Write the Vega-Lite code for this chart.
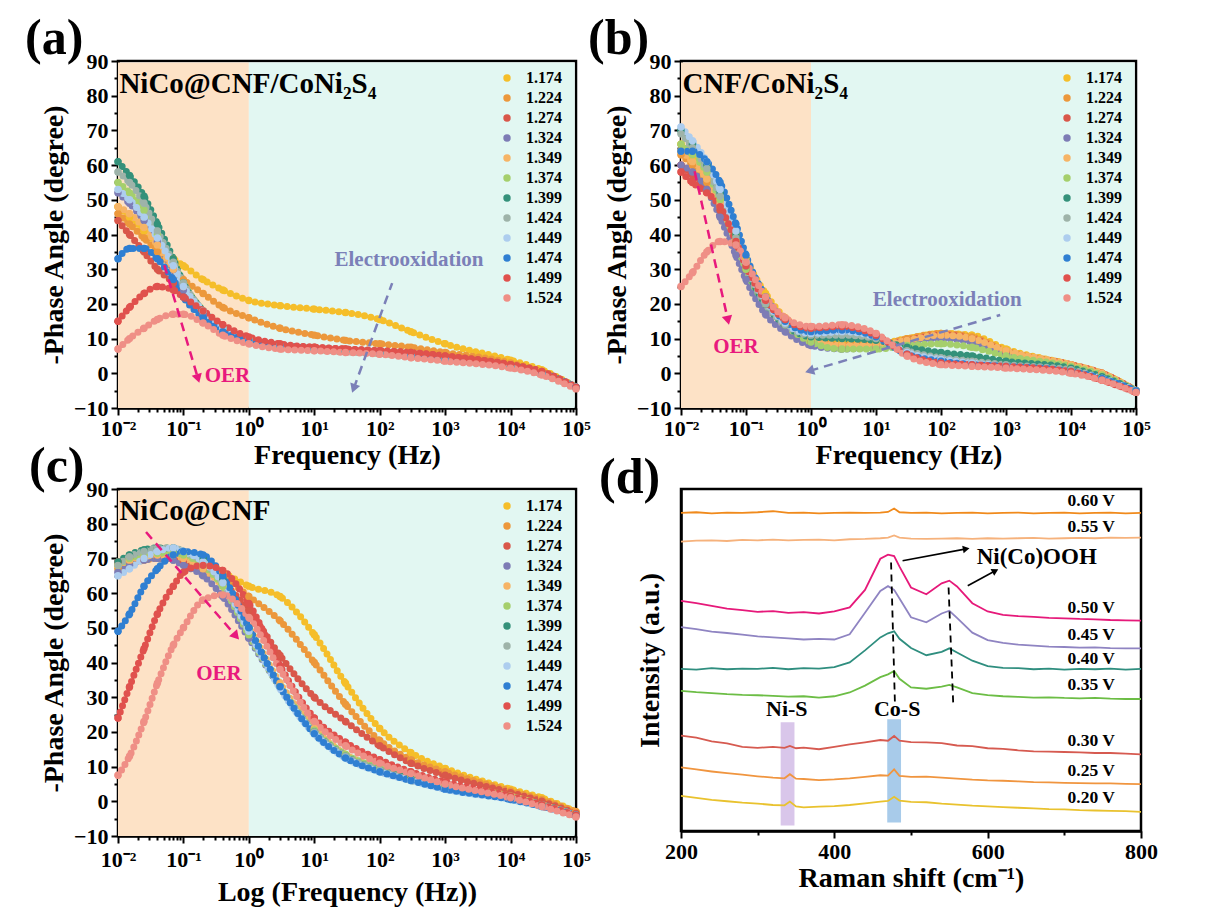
{
"$schema": "https://vega.github.io/schema/vega-lite/v6.json",
"background": "white",
"padding": {"left": 23, "top": 12, "right": 5, "bottom": 5},
"bounds": "flush",
"columns": 2,
"spacing": {"row": 81, "column": 105},
"config": {
  "font": "Liberation Serif",
  "view": {"stroke": "black", "strokeWidth": 2.5},
  "axis": {"labelFont": "Liberation Serif", "labelFontSize": 22, "labelFontWeight": "bold", "labelColor": "black", "titleFont": "Liberation Serif", "titleFontSize": 28, "titleFontWeight": "bold", "titleColor": "black", "domainColor": "black", "domainWidth": 2.5, "tickColor": "black", "tickWidth": 2, "grid": false, "zindex": 1, "labelPadding": 3},
  "legend": {"labelFont": "Liberation Serif", "labelFontSize": 16, "labelFontWeight": "bold", "labelColor": "black", "symbolSize": 55, "symbolType": "circle", "rowPadding": 4, "padding": 0, "labelOffset": 11},
  "text": {"font": "Liberation Serif", "fontWeight": "bold", "baseline": "middle"},
  "title": {"font": "Liberation Serif", "fontWeight": "bold", "fontSize": 50, "color": "black", "anchor": "start", "frame": "group", "baseline": "alphabetic", "offset": -14}
},
"resolve": {"scale": {"color": "independent", "stroke": "independent"}, "legend": {"color": "independent"}},
"datasets": {
"a": [
{"s":"1.174","f":0.01,"p":48},{"s":"1.174","f":0.015,"p":45},{"s":"1.174","f":0.025,"p":41},{"s":"1.174","f":0.04,"p":37},{"s":"1.174","f":0.07,"p":33},{"s":"1.174","f":0.1,"p":31},{"s":"1.174","f":0.2,"p":27},{"s":"1.174","f":0.4,"p":24},{"s":"1.174","f":1,"p":21},{"s":"1.174","f":3,"p":19.5},{"s":"1.174","f":10,"p":18.5},{"s":"1.174","f":30,"p":17.5},{"s":"1.174","f":100,"p":15.5},{"s":"1.174","f":300,"p":12},{"s":"1.174","f":1000,"p":8.5},{"s":"1.174","f":10000,"p":3.8},{"s":"1.174","f":30000,"p":1},{"s":"1.174","f":100000,"p":-4},
{"s":"1.224","f":0.01,"p":46},{"s":"1.224","f":0.015,"p":43},{"s":"1.224","f":0.025,"p":39},{"s":"1.224","f":0.04,"p":35},{"s":"1.224","f":0.07,"p":30},{"s":"1.224","f":0.1,"p":27},{"s":"1.224","f":0.2,"p":23},{"s":"1.224","f":0.4,"p":19},{"s":"1.224","f":1,"p":16},{"s":"1.224","f":3,"p":13},{"s":"1.224","f":10,"p":11},{"s":"1.224","f":30,"p":9.5},{"s":"1.224","f":100,"p":8.5},{"s":"1.224","f":300,"p":7.5},{"s":"1.224","f":1000,"p":6},{"s":"1.224","f":10000,"p":3},{"s":"1.224","f":30000,"p":0.5},{"s":"1.224","f":100000,"p":-4},
{"s":"1.274","f":0.01,"p":44},{"s":"1.274","f":0.015,"p":40},{"s":"1.274","f":0.025,"p":35},{"s":"1.274","f":0.04,"p":30},{"s":"1.274","f":0.07,"p":26},{"s":"1.274","f":0.1,"p":22},{"s":"1.274","f":0.2,"p":17},{"s":"1.274","f":0.4,"p":13},{"s":"1.274","f":1,"p":10},{"s":"1.274","f":3,"p":8},{"s":"1.274","f":10,"p":7.5},{"s":"1.274","f":30,"p":7},{"s":"1.274","f":100,"p":6.5},{"s":"1.274","f":300,"p":6},{"s":"1.274","f":1000,"p":5},{"s":"1.274","f":10000,"p":2.5},{"s":"1.274","f":30000,"p":0.5},{"s":"1.274","f":100000,"p":-4},
{"s":"1.324","f":0.01,"p":52},{"s":"1.324","f":0.015,"p":49},{"s":"1.324","f":0.025,"p":44},{"s":"1.324","f":0.04,"p":38},{"s":"1.324","f":0.07,"p":30},{"s":"1.324","f":0.1,"p":24},{"s":"1.324","f":0.2,"p":17},{"s":"1.324","f":0.4,"p":13},{"s":"1.324","f":1,"p":9.5},{"s":"1.324","f":3,"p":8},{"s":"1.324","f":10,"p":7},{"s":"1.324","f":30,"p":6.3},{"s":"1.324","f":100,"p":5.8},{"s":"1.324","f":300,"p":5},{"s":"1.324","f":1000,"p":4},{"s":"1.324","f":10000,"p":2},{"s":"1.324","f":30000,"p":0},{"s":"1.324","f":100000,"p":-4},
{"s":"1.349","f":0.01,"p":48},{"s":"1.349","f":0.015,"p":46},{"s":"1.349","f":0.025,"p":42},{"s":"1.349","f":0.04,"p":37},{"s":"1.349","f":0.07,"p":30},{"s":"1.349","f":0.1,"p":25},{"s":"1.349","f":0.2,"p":18},{"s":"1.349","f":0.4,"p":13},{"s":"1.349","f":1,"p":10},{"s":"1.349","f":3,"p":8},{"s":"1.349","f":10,"p":7},{"s":"1.349","f":30,"p":6.3},{"s":"1.349","f":100,"p":5.8},{"s":"1.349","f":300,"p":5},{"s":"1.349","f":1000,"p":4},{"s":"1.349","f":10000,"p":2},{"s":"1.349","f":30000,"p":0},{"s":"1.349","f":100000,"p":-4},
{"s":"1.374","f":0.01,"p":55},{"s":"1.374","f":0.015,"p":52},{"s":"1.374","f":0.025,"p":47},{"s":"1.374","f":0.04,"p":40},{"s":"1.374","f":0.07,"p":32},{"s":"1.374","f":0.1,"p":26},{"s":"1.374","f":0.2,"p":18},{"s":"1.374","f":0.4,"p":13},{"s":"1.374","f":1,"p":9.5},{"s":"1.374","f":3,"p":8},{"s":"1.374","f":10,"p":7},{"s":"1.374","f":30,"p":6.3},{"s":"1.374","f":100,"p":5.8},{"s":"1.374","f":300,"p":5},{"s":"1.374","f":1000,"p":4},{"s":"1.374","f":10000,"p":2},{"s":"1.374","f":30000,"p":0},{"s":"1.374","f":100000,"p":-4},
{"s":"1.399","f":0.01,"p":61},{"s":"1.399","f":0.015,"p":57},{"s":"1.399","f":0.025,"p":51},{"s":"1.399","f":0.04,"p":43},{"s":"1.399","f":0.07,"p":33},{"s":"1.399","f":0.1,"p":26},{"s":"1.399","f":0.2,"p":18},{"s":"1.399","f":0.4,"p":13},{"s":"1.399","f":1,"p":9.5},{"s":"1.399","f":3,"p":8},{"s":"1.399","f":10,"p":7},{"s":"1.399","f":30,"p":6.3},{"s":"1.399","f":100,"p":5.8},{"s":"1.399","f":300,"p":5},{"s":"1.399","f":1000,"p":4},{"s":"1.399","f":10000,"p":2},{"s":"1.399","f":30000,"p":0},{"s":"1.399","f":100000,"p":-4},
{"s":"1.424","f":0.01,"p":58},{"s":"1.424","f":0.015,"p":55},{"s":"1.424","f":0.025,"p":49},{"s":"1.424","f":0.04,"p":41},{"s":"1.424","f":0.07,"p":32},{"s":"1.424","f":0.1,"p":26},{"s":"1.424","f":0.2,"p":18},{"s":"1.424","f":0.4,"p":13},{"s":"1.424","f":1,"p":9.5},{"s":"1.424","f":3,"p":8},{"s":"1.424","f":10,"p":7},{"s":"1.424","f":30,"p":6.3},{"s":"1.424","f":100,"p":5.8},{"s":"1.424","f":300,"p":5},{"s":"1.424","f":1000,"p":4},{"s":"1.424","f":10000,"p":2},{"s":"1.424","f":30000,"p":0},{"s":"1.424","f":100000,"p":-4},
{"s":"1.449","f":0.01,"p":53},{"s":"1.449","f":0.015,"p":50},{"s":"1.449","f":0.025,"p":45},{"s":"1.449","f":0.04,"p":39},{"s":"1.449","f":0.07,"p":31},{"s":"1.449","f":0.1,"p":25},{"s":"1.449","f":0.2,"p":18},{"s":"1.449","f":0.4,"p":13},{"s":"1.449","f":1,"p":9.5},{"s":"1.449","f":3,"p":8},{"s":"1.449","f":10,"p":7},{"s":"1.449","f":30,"p":6.3},{"s":"1.449","f":100,"p":5.8},{"s":"1.449","f":300,"p":5},{"s":"1.449","f":1000,"p":4},{"s":"1.449","f":10000,"p":2},{"s":"1.449","f":30000,"p":0},{"s":"1.449","f":100000,"p":-4},
{"s":"1.474","f":0.01,"p":33},{"s":"1.474","f":0.015,"p":36},{"s":"1.474","f":0.025,"p":36},{"s":"1.474","f":0.04,"p":33},{"s":"1.474","f":0.07,"p":27},{"s":"1.474","f":0.1,"p":22},{"s":"1.474","f":0.2,"p":16},{"s":"1.474","f":0.4,"p":12},{"s":"1.474","f":1,"p":9.5},{"s":"1.474","f":3,"p":8},{"s":"1.474","f":10,"p":7},{"s":"1.474","f":30,"p":6.3},{"s":"1.474","f":100,"p":5.8},{"s":"1.474","f":300,"p":5},{"s":"1.474","f":1000,"p":4},{"s":"1.474","f":10000,"p":2},{"s":"1.474","f":30000,"p":0},{"s":"1.474","f":100000,"p":-4},
{"s":"1.499","f":0.01,"p":15},{"s":"1.499","f":0.015,"p":19},{"s":"1.499","f":0.025,"p":23},{"s":"1.499","f":0.04,"p":25},{"s":"1.499","f":0.07,"p":24},{"s":"1.499","f":0.1,"p":22},{"s":"1.499","f":0.2,"p":18},{"s":"1.499","f":0.4,"p":14},{"s":"1.499","f":1,"p":10.5},{"s":"1.499","f":3,"p":8.5},{"s":"1.499","f":10,"p":7.5},{"s":"1.499","f":30,"p":7},{"s":"1.499","f":100,"p":6.5},{"s":"1.499","f":300,"p":6},{"s":"1.499","f":1000,"p":5},{"s":"1.499","f":10000,"p":2.5},{"s":"1.499","f":30000,"p":0.5},{"s":"1.499","f":100000,"p":-4},
{"s":"1.524","f":0.01,"p":7},{"s":"1.524","f":0.015,"p":10},{"s":"1.524","f":0.025,"p":13},{"s":"1.524","f":0.04,"p":15.5},{"s":"1.524","f":0.07,"p":17},{"s":"1.524","f":0.1,"p":17},{"s":"1.524","f":0.2,"p":14.5},{"s":"1.524","f":0.4,"p":11},{"s":"1.524","f":1,"p":8.5},{"s":"1.524","f":3,"p":7},{"s":"1.524","f":10,"p":6.5},{"s":"1.524","f":30,"p":6},{"s":"1.524","f":100,"p":5.5},{"s":"1.524","f":300,"p":4.5},{"s":"1.524","f":1000,"p":3.5},{"s":"1.524","f":10000,"p":1.5},{"s":"1.524","f":30000,"p":-0.5},{"s":"1.524","f":100000,"p":-4.5}
],
"b": [
{"s":"1.174","f":0.01,"p":66},{"s":"1.174","f":0.015,"p":62},{"s":"1.174","f":0.025,"p":56},{"s":"1.174","f":0.04,"p":50},{"s":"1.174","f":0.07,"p":40},{"s":"1.174","f":0.1,"p":33},{"s":"1.174","f":0.2,"p":23},{"s":"1.174","f":0.4,"p":16},{"s":"1.174","f":1,"p":12},{"s":"1.174","f":3,"p":9},{"s":"1.174","f":10,"p":8.5},{"s":"1.174","f":30,"p":10},{"s":"1.174","f":100,"p":11.5},{"s":"1.174","f":300,"p":11},{"s":"1.174","f":1000,"p":7},{"s":"1.174","f":10000,"p":2.5},{"s":"1.174","f":30000,"p":0},{"s":"1.174","f":100000,"p":-5},
{"s":"1.224","f":0.01,"p":63},{"s":"1.224","f":0.015,"p":60},{"s":"1.224","f":0.025,"p":55},{"s":"1.224","f":0.04,"p":48},{"s":"1.224","f":0.07,"p":38},{"s":"1.224","f":0.1,"p":31},{"s":"1.224","f":0.2,"p":21},{"s":"1.224","f":0.4,"p":15},{"s":"1.224","f":1,"p":10},{"s":"1.224","f":3,"p":8},{"s":"1.224","f":10,"p":8},{"s":"1.224","f":30,"p":10},{"s":"1.224","f":100,"p":11.5},{"s":"1.224","f":300,"p":10.5},{"s":"1.224","f":1000,"p":6.5},{"s":"1.224","f":10000,"p":2.5},{"s":"1.224","f":30000,"p":0},{"s":"1.224","f":100000,"p":-5},
{"s":"1.274","f":0.01,"p":60},{"s":"1.274","f":0.015,"p":57},{"s":"1.274","f":0.025,"p":53},{"s":"1.274","f":0.04,"p":47},{"s":"1.274","f":0.07,"p":37},{"s":"1.274","f":0.1,"p":30},{"s":"1.274","f":0.2,"p":20},{"s":"1.274","f":0.4,"p":14},{"s":"1.274","f":1,"p":9},{"s":"1.274","f":3,"p":7.5},{"s":"1.274","f":10,"p":7.5},{"s":"1.274","f":30,"p":9.5},{"s":"1.274","f":100,"p":11},{"s":"1.274","f":300,"p":10},{"s":"1.274","f":1000,"p":6},{"s":"1.274","f":10000,"p":2.5},{"s":"1.274","f":30000,"p":0},{"s":"1.274","f":100000,"p":-5},
{"s":"1.324","f":0.01,"p":60},{"s":"1.324","f":0.015,"p":58},{"s":"1.324","f":0.025,"p":53},{"s":"1.324","f":0.04,"p":45},{"s":"1.324","f":0.07,"p":34},{"s":"1.324","f":0.1,"p":27},{"s":"1.324","f":0.2,"p":17},{"s":"1.324","f":0.4,"p":12},{"s":"1.324","f":1,"p":8},{"s":"1.324","f":3,"p":7},{"s":"1.324","f":10,"p":7.5},{"s":"1.324","f":30,"p":9},{"s":"1.324","f":100,"p":10},{"s":"1.324","f":300,"p":9},{"s":"1.324","f":1000,"p":5.5},{"s":"1.324","f":10000,"p":2},{"s":"1.324","f":30000,"p":-0.5},{"s":"1.324","f":100000,"p":-5},
{"s":"1.349","f":0.01,"p":64},{"s":"1.349","f":0.015,"p":61},{"s":"1.349","f":0.025,"p":56},{"s":"1.349","f":0.04,"p":49},{"s":"1.349","f":0.07,"p":38},{"s":"1.349","f":0.1,"p":31},{"s":"1.349","f":0.2,"p":21},{"s":"1.349","f":0.4,"p":15},{"s":"1.349","f":1,"p":10},{"s":"1.349","f":3,"p":8},{"s":"1.349","f":10,"p":8},{"s":"1.349","f":30,"p":9.5},{"s":"1.349","f":100,"p":11},{"s":"1.349","f":300,"p":10},{"s":"1.349","f":1000,"p":6.5},{"s":"1.349","f":10000,"p":2.5},{"s":"1.349","f":30000,"p":0},{"s":"1.349","f":100000,"p":-5},
{"s":"1.374","f":0.01,"p":66},{"s":"1.374","f":0.015,"p":63},{"s":"1.374","f":0.025,"p":58},{"s":"1.374","f":0.04,"p":50},{"s":"1.374","f":0.07,"p":38},{"s":"1.374","f":0.1,"p":30},{"s":"1.374","f":0.2,"p":20},{"s":"1.374","f":0.4,"p":14},{"s":"1.374","f":1,"p":9},{"s":"1.374","f":3,"p":7},{"s":"1.374","f":10,"p":7},{"s":"1.374","f":30,"p":8},{"s":"1.374","f":100,"p":8.5},{"s":"1.374","f":300,"p":7.5},{"s":"1.374","f":1000,"p":5},{"s":"1.374","f":10000,"p":2},{"s":"1.374","f":30000,"p":-0.5},{"s":"1.374","f":100000,"p":-5},
{"s":"1.399","f":0.01,"p":70},{"s":"1.399","f":0.015,"p":66},{"s":"1.399","f":0.025,"p":60},{"s":"1.399","f":0.04,"p":52},{"s":"1.399","f":0.07,"p":40},{"s":"1.399","f":0.1,"p":31},{"s":"1.399","f":0.2,"p":20},{"s":"1.399","f":0.4,"p":14},{"s":"1.399","f":1,"p":10.5},{"s":"1.399","f":3,"p":10},{"s":"1.399","f":10,"p":9.5},{"s":"1.399","f":30,"p":7.5},{"s":"1.399","f":100,"p":6},{"s":"1.399","f":300,"p":5},{"s":"1.399","f":1000,"p":3.5},{"s":"1.399","f":10000,"p":1.5},{"s":"1.399","f":30000,"p":-1},{"s":"1.399","f":100000,"p":-5},
{"s":"1.424","f":0.01,"p":69},{"s":"1.424","f":0.015,"p":65},{"s":"1.424","f":0.025,"p":59},{"s":"1.424","f":0.04,"p":51},{"s":"1.424","f":0.07,"p":39},{"s":"1.424","f":0.1,"p":31},{"s":"1.424","f":0.2,"p":20},{"s":"1.424","f":0.4,"p":14},{"s":"1.424","f":1,"p":11},{"s":"1.424","f":3,"p":11},{"s":"1.424","f":10,"p":10},{"s":"1.424","f":30,"p":6.5},{"s":"1.424","f":100,"p":4.5},{"s":"1.424","f":300,"p":3.5},{"s":"1.424","f":1000,"p":2.5},{"s":"1.424","f":10000,"p":1},{"s":"1.424","f":30000,"p":-1.5},{"s":"1.424","f":100000,"p":-5},
{"s":"1.449","f":0.01,"p":71},{"s":"1.449","f":0.015,"p":67},{"s":"1.449","f":0.025,"p":61},{"s":"1.449","f":0.04,"p":53},{"s":"1.449","f":0.07,"p":41},{"s":"1.449","f":0.1,"p":32},{"s":"1.449","f":0.2,"p":21},{"s":"1.449","f":0.4,"p":14.5},{"s":"1.449","f":1,"p":11.5},{"s":"1.449","f":3,"p":12},{"s":"1.449","f":10,"p":10.5},{"s":"1.449","f":30,"p":6},{"s":"1.449","f":100,"p":4},{"s":"1.449","f":300,"p":3},{"s":"1.449","f":1000,"p":2},{"s":"1.449","f":10000,"p":0.5},{"s":"1.449","f":30000,"p":-1.5},{"s":"1.449","f":100000,"p":-5},
{"s":"1.474","f":0.01,"p":64},{"s":"1.474","f":0.015,"p":64},{"s":"1.474","f":0.025,"p":61},{"s":"1.474","f":0.04,"p":55},{"s":"1.474","f":0.07,"p":43},{"s":"1.474","f":0.1,"p":34},{"s":"1.474","f":0.2,"p":22},{"s":"1.474","f":0.4,"p":15},{"s":"1.474","f":1,"p":12},{"s":"1.474","f":3,"p":12.5},{"s":"1.474","f":10,"p":10.5},{"s":"1.474","f":30,"p":5.5},{"s":"1.474","f":100,"p":3.5},{"s":"1.474","f":300,"p":2.5},{"s":"1.474","f":1000,"p":2},{"s":"1.474","f":10000,"p":0.5},{"s":"1.474","f":30000,"p":-1.5},{"s":"1.474","f":100000,"p":-5},
{"s":"1.499","f":0.01,"p":58},{"s":"1.499","f":0.015,"p":55},{"s":"1.499","f":0.025,"p":52},{"s":"1.499","f":0.04,"p":48},{"s":"1.499","f":0.07,"p":38},{"s":"1.499","f":0.1,"p":31},{"s":"1.499","f":0.2,"p":21},{"s":"1.499","f":0.4,"p":15.5},{"s":"1.499","f":1,"p":13},{"s":"1.499","f":3,"p":13.5},{"s":"1.499","f":10,"p":11},{"s":"1.499","f":30,"p":5.5},{"s":"1.499","f":100,"p":3},{"s":"1.499","f":300,"p":2.5},{"s":"1.499","f":1000,"p":2},{"s":"1.499","f":10000,"p":0.5},{"s":"1.499","f":30000,"p":-2},{"s":"1.499","f":100000,"p":-5.5},
{"s":"1.524","f":0.01,"p":25},{"s":"1.524","f":0.015,"p":29},{"s":"1.524","f":0.025,"p":35},{"s":"1.524","f":0.04,"p":38},{"s":"1.524","f":0.07,"p":37},{"s":"1.524","f":0.1,"p":32},{"s":"1.524","f":0.2,"p":22},{"s":"1.524","f":0.4,"p":16},{"s":"1.524","f":1,"p":13.5},{"s":"1.524","f":3,"p":14},{"s":"1.524","f":10,"p":11.5},{"s":"1.524","f":30,"p":5},{"s":"1.524","f":100,"p":2.5},{"s":"1.524","f":300,"p":2},{"s":"1.524","f":1000,"p":1.5},{"s":"1.524","f":10000,"p":0},{"s":"1.524","f":30000,"p":-2},{"s":"1.524","f":100000,"p":-5.5}
],
"c": [
{"s":"1.174","f":0.01,"p":68},{"s":"1.174","f":0.015,"p":69},{"s":"1.174","f":0.025,"p":70},{"s":"1.174","f":0.04,"p":70.5},{"s":"1.174","f":0.07,"p":71},{"s":"1.174","f":0.1,"p":71},{"s":"1.174","f":0.2,"p":69},{"s":"1.174","f":0.4,"p":66},{"s":"1.174","f":1,"p":62},{"s":"1.174","f":3,"p":59},{"s":"1.174","f":10,"p":48},{"s":"1.174","f":30,"p":34},{"s":"1.174","f":100,"p":21},{"s":"1.174","f":300,"p":14},{"s":"1.174","f":1000,"p":9.5},{"s":"1.174","f":10000,"p":3.5},{"s":"1.174","f":30000,"p":1},{"s":"1.174","f":100000,"p":-3},
{"s":"1.224","f":0.01,"p":67},{"s":"1.224","f":0.015,"p":68.5},{"s":"1.224","f":0.025,"p":69.5},{"s":"1.224","f":0.04,"p":70},{"s":"1.224","f":0.07,"p":70},{"s":"1.224","f":0.1,"p":70},{"s":"1.224","f":0.2,"p":68},{"s":"1.224","f":0.4,"p":65},{"s":"1.224","f":1,"p":59},{"s":"1.224","f":3,"p":52},{"s":"1.224","f":10,"p":40},{"s":"1.224","f":30,"p":28},{"s":"1.224","f":100,"p":17.5},{"s":"1.224","f":300,"p":12},{"s":"1.224","f":1000,"p":8.5},{"s":"1.224","f":10000,"p":3},{"s":"1.224","f":30000,"p":0.5},{"s":"1.224","f":100000,"p":-3},
{"s":"1.274","f":0.01,"p":69},{"s":"1.274","f":0.015,"p":70},{"s":"1.274","f":0.025,"p":70.5},{"s":"1.274","f":0.04,"p":70.5},{"s":"1.274","f":0.07,"p":70},{"s":"1.274","f":0.1,"p":69},{"s":"1.274","f":0.2,"p":67},{"s":"1.274","f":0.4,"p":63},{"s":"1.274","f":1,"p":55},{"s":"1.274","f":3,"p":42},{"s":"1.274","f":10,"p":30},{"s":"1.274","f":30,"p":23},{"s":"1.274","f":100,"p":16},{"s":"1.274","f":300,"p":11},{"s":"1.274","f":1000,"p":7.5},{"s":"1.274","f":10000,"p":2.5},{"s":"1.274","f":30000,"p":0},{"s":"1.274","f":100000,"p":-3.5},
{"s":"1.324","f":0.01,"p":66},{"s":"1.324","f":0.015,"p":68},{"s":"1.324","f":0.025,"p":69.5},{"s":"1.324","f":0.04,"p":70},{"s":"1.324","f":0.07,"p":69.5},{"s":"1.324","f":0.1,"p":68},{"s":"1.324","f":0.2,"p":65},{"s":"1.324","f":0.4,"p":59},{"s":"1.324","f":1,"p":47},{"s":"1.324","f":3,"p":33},{"s":"1.324","f":10,"p":20},{"s":"1.324","f":30,"p":13},{"s":"1.324","f":100,"p":9},{"s":"1.324","f":300,"p":6.5},{"s":"1.324","f":1000,"p":4},{"s":"1.324","f":10000,"p":1},{"s":"1.324","f":30000,"p":-1},{"s":"1.324","f":100000,"p":-4},
{"s":"1.349","f":0.01,"p":68},{"s":"1.349","f":0.015,"p":69.5},{"s":"1.349","f":0.025,"p":70.5},{"s":"1.349","f":0.04,"p":71},{"s":"1.349","f":0.07,"p":71},{"s":"1.349","f":0.1,"p":70},{"s":"1.349","f":0.2,"p":67},{"s":"1.349","f":0.4,"p":62},{"s":"1.349","f":1,"p":50},{"s":"1.349","f":3,"p":34},{"s":"1.349","f":10,"p":21},{"s":"1.349","f":30,"p":13.5},{"s":"1.349","f":100,"p":9.5},{"s":"1.349","f":300,"p":7},{"s":"1.349","f":1000,"p":4.5},{"s":"1.349","f":10000,"p":1.5},{"s":"1.349","f":30000,"p":-1},{"s":"1.349","f":100000,"p":-4},
{"s":"1.374","f":0.01,"p":68},{"s":"1.374","f":0.015,"p":70},{"s":"1.374","f":0.025,"p":71},{"s":"1.374","f":0.04,"p":71.5},{"s":"1.374","f":0.07,"p":71.5},{"s":"1.374","f":0.1,"p":71},{"s":"1.374","f":0.2,"p":68},{"s":"1.374","f":0.4,"p":62},{"s":"1.374","f":1,"p":48},{"s":"1.374","f":3,"p":33},{"s":"1.374","f":10,"p":20.5},{"s":"1.374","f":30,"p":13.5},{"s":"1.374","f":100,"p":9.5},{"s":"1.374","f":300,"p":6.5},{"s":"1.374","f":1000,"p":4.5},{"s":"1.374","f":10000,"p":1.5},{"s":"1.374","f":30000,"p":-1},{"s":"1.374","f":100000,"p":-4},
{"s":"1.399","f":0.01,"p":69},{"s":"1.399","f":0.015,"p":71},{"s":"1.399","f":0.025,"p":72.5},{"s":"1.399","f":0.04,"p":73},{"s":"1.399","f":0.07,"p":73},{"s":"1.399","f":0.1,"p":72},{"s":"1.399","f":0.2,"p":70},{"s":"1.399","f":0.4,"p":64},{"s":"1.399","f":1,"p":50},{"s":"1.399","f":3,"p":33},{"s":"1.399","f":10,"p":20},{"s":"1.399","f":30,"p":13},{"s":"1.399","f":100,"p":9},{"s":"1.399","f":300,"p":6.5},{"s":"1.399","f":1000,"p":4},{"s":"1.399","f":10000,"p":1},{"s":"1.399","f":30000,"p":-1},{"s":"1.399","f":100000,"p":-4},
{"s":"1.424","f":0.01,"p":68},{"s":"1.424","f":0.015,"p":70.5},{"s":"1.424","f":0.025,"p":72},{"s":"1.424","f":0.04,"p":73},{"s":"1.424","f":0.07,"p":73},{"s":"1.424","f":0.1,"p":72},{"s":"1.424","f":0.2,"p":69},{"s":"1.424","f":0.4,"p":63},{"s":"1.424","f":1,"p":49},{"s":"1.424","f":3,"p":33},{"s":"1.424","f":10,"p":20},{"s":"1.424","f":30,"p":13},{"s":"1.424","f":100,"p":9},{"s":"1.424","f":300,"p":6},{"s":"1.424","f":1000,"p":4},{"s":"1.424","f":10000,"p":1},{"s":"1.424","f":30000,"p":-1},{"s":"1.424","f":100000,"p":-4},
{"s":"1.449","f":0.01,"p":65},{"s":"1.449","f":0.015,"p":67},{"s":"1.449","f":0.025,"p":70},{"s":"1.449","f":0.04,"p":72},{"s":"1.449","f":0.07,"p":73},{"s":"1.449","f":0.1,"p":72},{"s":"1.449","f":0.2,"p":69},{"s":"1.449","f":0.4,"p":63},{"s":"1.449","f":1,"p":49},{"s":"1.449","f":3,"p":32.5},{"s":"1.449","f":10,"p":19.5},{"s":"1.449","f":30,"p":12.5},{"s":"1.449","f":100,"p":8.5},{"s":"1.449","f":300,"p":6},{"s":"1.449","f":1000,"p":3.5},{"s":"1.449","f":10000,"p":0.5},{"s":"1.449","f":30000,"p":-1.5},{"s":"1.449","f":100000,"p":-4},
{"s":"1.474","f":0.01,"p":49},{"s":"1.474","f":0.015,"p":54},{"s":"1.474","f":0.025,"p":62},{"s":"1.474","f":0.04,"p":67},{"s":"1.474","f":0.07,"p":71},{"s":"1.474","f":0.1,"p":72},{"s":"1.474","f":0.2,"p":71},{"s":"1.474","f":0.4,"p":65},{"s":"1.474","f":1,"p":50},{"s":"1.474","f":3,"p":33},{"s":"1.474","f":10,"p":19.5},{"s":"1.474","f":30,"p":12.5},{"s":"1.474","f":100,"p":8.5},{"s":"1.474","f":300,"p":6},{"s":"1.474","f":1000,"p":3.5},{"s":"1.474","f":10000,"p":0.5},{"s":"1.474","f":30000,"p":-1.5},{"s":"1.474","f":100000,"p":-4},
{"s":"1.499","f":0.01,"p":24},{"s":"1.499","f":0.015,"p":33},{"s":"1.499","f":0.025,"p":44},{"s":"1.499","f":0.04,"p":54},{"s":"1.499","f":0.07,"p":62},{"s":"1.499","f":0.1,"p":66},{"s":"1.499","f":0.2,"p":68},{"s":"1.499","f":0.4,"p":66.5},{"s":"1.499","f":1,"p":57},{"s":"1.499","f":3,"p":39},{"s":"1.499","f":10,"p":24},{"s":"1.499","f":30,"p":17},{"s":"1.499","f":100,"p":12},{"s":"1.499","f":300,"p":8.5},{"s":"1.499","f":1000,"p":5.5},{"s":"1.499","f":10000,"p":1.5},{"s":"1.499","f":30000,"p":-1},{"s":"1.499","f":100000,"p":-4},
{"s":"1.524","f":0.01,"p":7.5},{"s":"1.524","f":0.015,"p":13},{"s":"1.524","f":0.025,"p":23},{"s":"1.524","f":0.04,"p":34},{"s":"1.524","f":0.07,"p":45},{"s":"1.524","f":0.1,"p":50},{"s":"1.524","f":0.2,"p":58},{"s":"1.524","f":0.4,"p":59.5},{"s":"1.524","f":1,"p":53},{"s":"1.524","f":3,"p":38},{"s":"1.524","f":10,"p":23},{"s":"1.524","f":30,"p":16},{"s":"1.524","f":100,"p":11},{"s":"1.524","f":300,"p":8},{"s":"1.524","f":1000,"p":5},{"s":"1.524","f":10000,"p":1},{"s":"1.524","f":30000,"p":-1.5},{"s":"1.524","f":100000,"p":-4.5}
],
"d": [
{"v":"0.60 V","x":200,"y":93.0},{"v":"0.60 V","x":220,"y":93.2},{"v":"0.60 V","x":240,"y":92.9},{"v":"0.60 V","x":260,"y":93.1},{"v":"0.60 V","x":280,"y":93.0},{"v":"0.60 V","x":300,"y":93.2},{"v":"0.60 V","x":320,"y":93.5},{"v":"0.60 V","x":340,"y":93.0},{"v":"0.60 V","x":360,"y":93.1},{"v":"0.60 V","x":380,"y":92.9},{"v":"0.60 V","x":400,"y":93.0},{"v":"0.60 V","x":420,"y":93.1},{"v":"0.60 V","x":440,"y":93.0},{"v":"0.60 V","x":460,"y":93.1},{"v":"0.60 V","x":470,"y":93.3},{"v":"0.60 V","x":478,"y":94.3},{"v":"0.60 V","x":485,"y":93.2},{"v":"0.60 V","x":500,"y":93.0},{"v":"0.60 V","x":520,"y":93.1},{"v":"0.60 V","x":540,"y":92.9},{"v":"0.60 V","x":560,"y":93.0},{"v":"0.60 V","x":580,"y":93.1},{"v":"0.60 V","x":600,"y":92.9},{"v":"0.60 V","x":620,"y":93.0},{"v":"0.60 V","x":640,"y":93.1},{"v":"0.60 V","x":660,"y":92.9},{"v":"0.60 V","x":680,"y":93.0},{"v":"0.60 V","x":700,"y":93.1},{"v":"0.60 V","x":720,"y":92.9},{"v":"0.60 V","x":740,"y":93.0},{"v":"0.60 V","x":760,"y":93.1},{"v":"0.60 V","x":780,"y":92.9},{"v":"0.60 V","x":800,"y":93.0},
{"v":"0.55 V","x":200,"y":84.6},{"v":"0.55 V","x":220,"y":84.9},{"v":"0.55 V","x":240,"y":85.0},{"v":"0.55 V","x":260,"y":84.8},{"v":"0.55 V","x":280,"y":85.1},{"v":"0.55 V","x":300,"y":85.0},{"v":"0.55 V","x":320,"y":85.2},{"v":"0.55 V","x":340,"y":85.0},{"v":"0.55 V","x":360,"y":85.1},{"v":"0.55 V","x":380,"y":85.2},{"v":"0.55 V","x":400,"y":85.0},{"v":"0.55 V","x":420,"y":85.3},{"v":"0.55 V","x":440,"y":85.4},{"v":"0.55 V","x":460,"y":85.6},{"v":"0.55 V","x":470,"y":85.8},{"v":"0.55 V","x":478,"y":86.4},{"v":"0.55 V","x":485,"y":85.8},{"v":"0.55 V","x":500,"y":85.5},{"v":"0.55 V","x":520,"y":85.4},{"v":"0.55 V","x":540,"y":85.5},{"v":"0.55 V","x":560,"y":85.6},{"v":"0.55 V","x":580,"y":85.4},{"v":"0.55 V","x":600,"y":85.6},{"v":"0.55 V","x":620,"y":85.5},{"v":"0.55 V","x":640,"y":85.6},{"v":"0.55 V","x":660,"y":85.7},{"v":"0.55 V","x":680,"y":85.5},{"v":"0.55 V","x":700,"y":85.6},{"v":"0.55 V","x":720,"y":85.7},{"v":"0.55 V","x":740,"y":85.6},{"v":"0.55 V","x":760,"y":85.8},{"v":"0.55 V","x":780,"y":85.7},{"v":"0.55 V","x":800,"y":85.8},
{"v":"0.50 V","x":200,"y":67.3},{"v":"0.50 V","x":220,"y":66.6},{"v":"0.50 V","x":240,"y":65.8},{"v":"0.50 V","x":260,"y":65.0},{"v":"0.50 V","x":280,"y":64.6},{"v":"0.50 V","x":300,"y":64.1},{"v":"0.50 V","x":320,"y":64.3},{"v":"0.50 V","x":340,"y":63.8},{"v":"0.50 V","x":360,"y":64.0},{"v":"0.50 V","x":380,"y":63.6},{"v":"0.50 V","x":400,"y":64.2},{"v":"0.50 V","x":420,"y":65.4},{"v":"0.50 V","x":440,"y":70.5},{"v":"0.50 V","x":460,"y":79.6},{"v":"0.50 V","x":470,"y":80.8},{"v":"0.50 V","x":478,"y":80.4},{"v":"0.50 V","x":485,"y":77.3},{"v":"0.50 V","x":500,"y":71.2},{"v":"0.50 V","x":520,"y":69.2},{"v":"0.50 V","x":540,"y":72.4},{"v":"0.50 V","x":550,"y":73.2},{"v":"0.50 V","x":560,"y":71.5},{"v":"0.50 V","x":580,"y":66.6},{"v":"0.50 V","x":600,"y":64.2},{"v":"0.50 V","x":620,"y":63.2},{"v":"0.50 V","x":640,"y":62.8},{"v":"0.50 V","x":660,"y":62.6},{"v":"0.50 V","x":680,"y":62.3},{"v":"0.50 V","x":700,"y":62.2},{"v":"0.50 V","x":720,"y":62.0},{"v":"0.50 V","x":740,"y":61.9},{"v":"0.50 V","x":760,"y":61.7},{"v":"0.50 V","x":780,"y":61.6},{"v":"0.50 V","x":800,"y":61.5},
{"v":"0.45 V","x":200,"y":59.6},{"v":"0.45 V","x":220,"y":59.0},{"v":"0.45 V","x":240,"y":58.3},{"v":"0.45 V","x":260,"y":57.9},{"v":"0.45 V","x":280,"y":57.4},{"v":"0.45 V","x":300,"y":56.9},{"v":"0.45 V","x":320,"y":56.6},{"v":"0.45 V","x":340,"y":56.3},{"v":"0.45 V","x":360,"y":56.0},{"v":"0.45 V","x":380,"y":56.2},{"v":"0.45 V","x":400,"y":56.0},{"v":"0.45 V","x":420,"y":57.5},{"v":"0.45 V","x":440,"y":63.8},{"v":"0.45 V","x":460,"y":70.2},{"v":"0.45 V","x":470,"y":71.6},{"v":"0.45 V","x":478,"y":70.5},{"v":"0.45 V","x":485,"y":68.0},{"v":"0.45 V","x":500,"y":62.5},{"v":"0.45 V","x":520,"y":61.0},{"v":"0.45 V","x":540,"y":63.6},{"v":"0.45 V","x":550,"y":64.4},{"v":"0.45 V","x":560,"y":62.3},{"v":"0.45 V","x":580,"y":58.0},{"v":"0.45 V","x":600,"y":55.8},{"v":"0.45 V","x":620,"y":55.0},{"v":"0.45 V","x":640,"y":54.5},{"v":"0.45 V","x":660,"y":54.2},{"v":"0.45 V","x":680,"y":53.9},{"v":"0.45 V","x":700,"y":53.8},{"v":"0.45 V","x":720,"y":53.6},{"v":"0.45 V","x":740,"y":53.7},{"v":"0.45 V","x":760,"y":53.5},{"v":"0.45 V","x":780,"y":53.4},{"v":"0.45 V","x":800,"y":53.4},
{"v":"0.40 V","x":200,"y":47.4},{"v":"0.40 V","x":220,"y":47.2},{"v":"0.40 V","x":240,"y":47.6},{"v":"0.40 V","x":260,"y":47.3},{"v":"0.40 V","x":280,"y":47.5},{"v":"0.40 V","x":300,"y":47.4},{"v":"0.40 V","x":320,"y":47.7},{"v":"0.40 V","x":340,"y":47.3},{"v":"0.40 V","x":360,"y":47.6},{"v":"0.40 V","x":380,"y":47.5},{"v":"0.40 V","x":400,"y":47.9},{"v":"0.40 V","x":420,"y":49.3},{"v":"0.40 V","x":440,"y":52.8},{"v":"0.40 V","x":460,"y":56.6},{"v":"0.40 V","x":470,"y":57.8},{"v":"0.40 V","x":478,"y":58.4},{"v":"0.40 V","x":485,"y":56.2},{"v":"0.40 V","x":500,"y":53.5},{"v":"0.40 V","x":520,"y":51.4},{"v":"0.40 V","x":540,"y":52.4},{"v":"0.40 V","x":550,"y":53.4},{"v":"0.40 V","x":560,"y":52.2},{"v":"0.40 V","x":580,"y":49.8},{"v":"0.40 V","x":600,"y":48.2},{"v":"0.40 V","x":620,"y":47.7},{"v":"0.40 V","x":640,"y":47.6},{"v":"0.40 V","x":660,"y":47.3},{"v":"0.40 V","x":680,"y":47.5},{"v":"0.40 V","x":700,"y":47.2},{"v":"0.40 V","x":720,"y":47.4},{"v":"0.40 V","x":740,"y":47.3},{"v":"0.40 V","x":760,"y":47.5},{"v":"0.40 V","x":780,"y":47.2},{"v":"0.40 V","x":800,"y":47.4},
{"v":"0.35 V","x":200,"y":41.0},{"v":"0.35 V","x":220,"y":40.6},{"v":"0.35 V","x":240,"y":40.3},{"v":"0.35 V","x":260,"y":40.0},{"v":"0.35 V","x":280,"y":39.8},{"v":"0.35 V","x":300,"y":39.7},{"v":"0.35 V","x":320,"y":39.5},{"v":"0.35 V","x":340,"y":39.3},{"v":"0.35 V","x":360,"y":39.4},{"v":"0.35 V","x":380,"y":39.0},{"v":"0.35 V","x":400,"y":39.4},{"v":"0.35 V","x":420,"y":40.5},{"v":"0.35 V","x":440,"y":42.5},{"v":"0.35 V","x":460,"y":45.0},{"v":"0.35 V","x":470,"y":45.8},{"v":"0.35 V","x":478,"y":46.8},{"v":"0.35 V","x":485,"y":44.5},{"v":"0.35 V","x":500,"y":42.0},{"v":"0.35 V","x":520,"y":41.6},{"v":"0.35 V","x":540,"y":42.2},{"v":"0.35 V","x":550,"y":42.7},{"v":"0.35 V","x":560,"y":42.0},{"v":"0.35 V","x":580,"y":40.3},{"v":"0.35 V","x":600,"y":39.7},{"v":"0.35 V","x":620,"y":39.4},{"v":"0.35 V","x":640,"y":39.2},{"v":"0.35 V","x":660,"y":39.0},{"v":"0.35 V","x":680,"y":39.1},{"v":"0.35 V","x":700,"y":38.9},{"v":"0.35 V","x":720,"y":38.8},{"v":"0.35 V","x":740,"y":38.9},{"v":"0.35 V","x":760,"y":38.7},{"v":"0.35 V","x":780,"y":38.6},{"v":"0.35 V","x":800,"y":38.6},
{"v":"0.30 V","x":200,"y":27.9},{"v":"0.30 V","x":220,"y":27.3},{"v":"0.30 V","x":240,"y":26.2},{"v":"0.30 V","x":260,"y":25.6},{"v":"0.30 V","x":280,"y":24.6},{"v":"0.30 V","x":300,"y":24.3},{"v":"0.30 V","x":320,"y":24.6},{"v":"0.30 V","x":335,"y":24.3},{"v":"0.30 V","x":342,"y":24.9},{"v":"0.30 V","x":350,"y":24.2},{"v":"0.30 V","x":360,"y":24.4},{"v":"0.30 V","x":380,"y":23.9},{"v":"0.30 V","x":400,"y":24.6},{"v":"0.30 V","x":420,"y":25.3},{"v":"0.30 V","x":440,"y":25.9},{"v":"0.30 V","x":460,"y":26.6},{"v":"0.30 V","x":470,"y":26.4},{"v":"0.30 V","x":478,"y":27.8},{"v":"0.30 V","x":485,"y":26.4},{"v":"0.30 V","x":500,"y":26.0},{"v":"0.30 V","x":520,"y":25.9},{"v":"0.30 V","x":540,"y":25.7},{"v":"0.30 V","x":560,"y":25.0},{"v":"0.30 V","x":580,"y":24.8},{"v":"0.30 V","x":600,"y":24.2},{"v":"0.30 V","x":620,"y":24.0},{"v":"0.30 V","x":640,"y":23.6},{"v":"0.30 V","x":660,"y":23.3},{"v":"0.30 V","x":680,"y":23.2},{"v":"0.30 V","x":700,"y":23.1},{"v":"0.30 V","x":720,"y":23.0},{"v":"0.30 V","x":740,"y":22.8},{"v":"0.30 V","x":760,"y":22.8},{"v":"0.30 V","x":780,"y":22.6},{"v":"0.30 V","x":800,"y":22.4},
{"v":"0.25 V","x":200,"y":18.6},{"v":"0.25 V","x":220,"y":18.0},{"v":"0.25 V","x":240,"y":17.4},{"v":"0.25 V","x":260,"y":16.9},{"v":"0.25 V","x":280,"y":16.5},{"v":"0.25 V","x":300,"y":16.0},{"v":"0.25 V","x":320,"y":15.6},{"v":"0.25 V","x":335,"y":15.4},{"v":"0.25 V","x":342,"y":16.6},{"v":"0.25 V","x":350,"y":15.3},{"v":"0.25 V","x":360,"y":15.2},{"v":"0.25 V","x":380,"y":14.9},{"v":"0.25 V","x":400,"y":15.1},{"v":"0.25 V","x":420,"y":15.4},{"v":"0.25 V","x":440,"y":15.8},{"v":"0.25 V","x":460,"y":16.3},{"v":"0.25 V","x":470,"y":16.2},{"v":"0.25 V","x":478,"y":18.0},{"v":"0.25 V","x":485,"y":16.1},{"v":"0.25 V","x":500,"y":15.8},{"v":"0.25 V","x":520,"y":15.9},{"v":"0.25 V","x":540,"y":15.6},{"v":"0.25 V","x":560,"y":15.3},{"v":"0.25 V","x":580,"y":15.0},{"v":"0.25 V","x":600,"y":14.8},{"v":"0.25 V","x":620,"y":14.7},{"v":"0.25 V","x":640,"y":14.5},{"v":"0.25 V","x":660,"y":14.3},{"v":"0.25 V","x":680,"y":14.2},{"v":"0.25 V","x":700,"y":14.1},{"v":"0.25 V","x":720,"y":14.0},{"v":"0.25 V","x":740,"y":13.9},{"v":"0.25 V","x":760,"y":13.9},{"v":"0.25 V","x":780,"y":13.8},{"v":"0.25 V","x":800,"y":13.7},
{"v":"0.20 V","x":200,"y":10.3},{"v":"0.20 V","x":220,"y":9.7},{"v":"0.20 V","x":240,"y":9.1},{"v":"0.20 V","x":260,"y":8.7},{"v":"0.20 V","x":280,"y":8.3},{"v":"0.20 V","x":300,"y":8.0},{"v":"0.20 V","x":320,"y":7.6},{"v":"0.20 V","x":335,"y":7.5},{"v":"0.20 V","x":342,"y":8.6},{"v":"0.20 V","x":350,"y":7.2},{"v":"0.20 V","x":360,"y":6.9},{"v":"0.20 V","x":380,"y":7.1},{"v":"0.20 V","x":400,"y":7.3},{"v":"0.20 V","x":420,"y":7.6},{"v":"0.20 V","x":440,"y":8.1},{"v":"0.20 V","x":460,"y":8.6},{"v":"0.20 V","x":470,"y":8.8},{"v":"0.20 V","x":478,"y":10.0},{"v":"0.20 V","x":485,"y":8.9},{"v":"0.20 V","x":500,"y":8.5},{"v":"0.20 V","x":520,"y":8.4},{"v":"0.20 V","x":540,"y":8.0},{"v":"0.20 V","x":560,"y":7.7},{"v":"0.20 V","x":580,"y":7.4},{"v":"0.20 V","x":600,"y":7.2},{"v":"0.20 V","x":620,"y":7.0},{"v":"0.20 V","x":640,"y":6.8},{"v":"0.20 V","x":660,"y":6.6},{"v":"0.20 V","x":680,"y":6.4},{"v":"0.20 V","x":700,"y":6.3},{"v":"0.20 V","x":720,"y":6.1},{"v":"0.20 V","x":740,"y":6.0},{"v":"0.20 V","x":760,"y":5.9},{"v":"0.20 V","x":780,"y":5.8},{"v":"0.20 V","x":800,"y":5.6}
]
},
"concat": [
{
"width": 458, "height": 347,
"title": {"text": "(a)", "dx": -93},
"encoding": {
  "x": {"field": "f", "type": "quantitative", "scale": {"type": "log", "domain": [0.01, 100000]},
    "axis": {"title": "Frequency (Hz)", "labelFlush": false, "labelOverlap": false, "titlePadding": 2,
      "values": [0.01,0.02,0.03,0.04,0.05,0.06,0.07,0.08,0.09,0.1,0.2,0.3,0.4,0.5,0.6,0.7,0.8,0.9,1,2,3,4,5,6,7,8,9,10,20,30,40,50,60,70,80,90,100,200,300,400,500,600,700,800,900,1000,2000,3000,4000,5000,6000,7000,8000,9000,10000,20000,30000,40000,50000,60000,70000,80000,90000,100000],
      "labelExpr": "abs(log(datum.value)/LN10 - round(log(datum.value)/LN10)) < 0.001 ? '10' + ['⁻²','⁻¹','⁰','¹','²','³','⁴','⁵'][round(log(datum.value)/LN10) + 2] : ''",
      "tickSize": {"condition": {"test": "abs(log(datum.value)/LN10 - round(log(datum.value)/LN10)) < 0.001", "value": 7}, "value": 4}}},
  "y": {"field": "p", "type": "quantitative", "scale": {"domain": [-10, 90], "nice": false},
    "axis": {"title": "-Phase Angle (degree)", "titlePadding": 5,
      "values": [-10,-5,0,5,10,15,20,25,30,35,40,45,50,55,60,65,70,75,80,85,90],
      "labelExpr": "datum.value % 10 == 0 ? datum.label : ''",
      "tickSize": {"condition": {"test": "datum.value % 10 == 0", "value": 7}, "value": 4}}}
},
"layer": [
  {"data": {"values": [{"f": 0.01, "f2": 1, "p": -10, "p2": 89.6, "z": "o"}, {"f": 1, "f2": 95500, "p": -10, "p2": 89.6, "z": "c"}]},
   "mark": {"type": "rect"},
   "encoding": {"x2": {"field": "f2"}, "y2": {"field": "p2"}, "color": {"condition": {"test": "datum.z == 'o'", "value": "#fde2c6"}, "value": "#e2f7f2"}}},
  {"data": {"name": "a"},
   "mark": {"type": "line", "strokeWidth": 7, "strokeCap": "round", "strokeDash": [0, 6.5], "interpolate": "monotone"},
   "encoding": {"stroke": {"field": "s", "type": "nominal", "legend": null, "scale": {"range": ["#f5be2a","#ec983c","#d9574a","#7d7cb5","#f6b466","#a5cf6c","#34917a","#9eb3a9","#adcdee","#2f7fd2","#e0514d","#ef8f86"]}}}},
  {"data": {"name": "a"},
   "mark": {"type": "point", "filled": true, "size": 55, "opacity": 1},
   "encoding": {"color": {"field": "s", "type": "nominal", "scale": {"domain": ["1.174","1.224","1.274","1.324","1.349","1.374","1.399","1.424","1.449","1.474","1.499","1.524"], "range": ["#f5be2a","#ec983c","#d9574a","#7d7cb5","#f6b466","#a5cf6c","#34917a","#9eb3a9","#adcdee","#2f7fd2","#e0514d","#ef8f86"]},
     "legend": {"title": null, "orient": "none", "legendX": 381, "legendY": 9}}}},
  {"data": {"values": [{"f": 0.051, "p": 31.2}, {"f": 0.167, "p": -1.5}]},
   "mark": {"type": "line", "color": "#e8197d", "strokeWidth": 2.5, "strokeDash": [9, 6]}, "encoding": {}},
  {"data": {"values": [{"f": 0.167, "p": -1.5}]},
   "mark": {"type": "point", "shape": "triangle-down", "filled": true, "size": 110, "angle": -16.5, "color": "#e8197d", "opacity": 1}},
  {"data": {"values": [{"t": "OER", "f": 0.47, "p": -0.8}]},
   "mark": {"type": "text", "fontSize": 21, "color": "#e8197d"}, "encoding": {"text": {"field": "t"}}},
  {"data": {"values": [{"f": 155, "p": 26}, {"f": 40, "p": -4.4}]},
   "mark": {"type": "line", "color": "#7b80b8", "strokeWidth": 2.5, "strokeDash": [9, 6]}, "encoding": {}},
  {"data": {"values": [{"f": 40, "p": -4.4}]},
   "mark": {"type": "point", "shape": "triangle-down", "filled": true, "size": 110, "angle": 20, "color": "#7b80b8", "opacity": 1}},
  {"data": {"values": [{"t": "Electrooxidation", "f": 280, "p": 32.7}]},
   "mark": {"type": "text", "fontSize": 21, "color": "#7b80b8"}, "encoding": {"text": {"field": "t"}}},
  {"data": {"values": [{"t": "NiCo@CNF/CoNi₂S₄", "f": 0.0105, "p": 83.4}]},
   "mark": {"type": "text", "fontSize": 29, "align": "left", "color": "black"}, "encoding": {"text": {"field": "t"}}}
]
},
{
"width": 455, "height": 347,
"title": {"text": "(b)", "dx": -93},
"encoding": {
  "x": {"field": "f", "type": "quantitative", "scale": {"type": "log", "domain": [0.01, 100000]},
    "axis": {"title": "Frequency (Hz)", "labelFlush": false, "labelOverlap": false, "titlePadding": 2,
      "values": [0.01,0.02,0.03,0.04,0.05,0.06,0.07,0.08,0.09,0.1,0.2,0.3,0.4,0.5,0.6,0.7,0.8,0.9,1,2,3,4,5,6,7,8,9,10,20,30,40,50,60,70,80,90,100,200,300,400,500,600,700,800,900,1000,2000,3000,4000,5000,6000,7000,8000,9000,10000,20000,30000,40000,50000,60000,70000,80000,90000,100000],
      "labelExpr": "abs(log(datum.value)/LN10 - round(log(datum.value)/LN10)) < 0.001 ? '10' + ['⁻²','⁻¹','⁰','¹','²','³','⁴','⁵'][round(log(datum.value)/LN10) + 2] : ''",
      "tickSize": {"condition": {"test": "abs(log(datum.value)/LN10 - round(log(datum.value)/LN10)) < 0.001", "value": 7}, "value": 4}}},
  "y": {"field": "p", "type": "quantitative", "scale": {"domain": [-10, 90], "nice": false},
    "axis": {"title": "-Phase Angle (degree)", "titlePadding": 5,
      "values": [-10,-5,0,5,10,15,20,25,30,35,40,45,50,55,60,65,70,75,80,85,90],
      "labelExpr": "datum.value % 10 == 0 ? datum.label : ''",
      "tickSize": {"condition": {"test": "datum.value % 10 == 0", "value": 7}, "value": 4}}}
},
"layer": [
  {"data": {"values": [{"f": 0.01, "f2": 1, "p": -10, "p2": 89.6, "z": "o"}, {"f": 1, "f2": 95500, "p": -10, "p2": 89.6, "z": "c"}]},
   "mark": {"type": "rect"},
   "encoding": {"x2": {"field": "f2"}, "y2": {"field": "p2"}, "color": {"condition": {"test": "datum.z == 'o'", "value": "#fde2c6"}, "value": "#e2f7f2"}}},
  {"data": {"name": "b"},
   "mark": {"type": "line", "strokeWidth": 7, "strokeCap": "round", "strokeDash": [0, 6.5], "interpolate": "monotone"},
   "encoding": {"stroke": {"field": "s", "type": "nominal", "legend": null, "scale": {"range": ["#f5be2a","#ec983c","#d9574a","#7d7cb5","#f6b466","#a5cf6c","#34917a","#9eb3a9","#adcdee","#2f7fd2","#e0514d","#ef8f86"]}}}},
  {"data": {"name": "b"},
   "mark": {"type": "point", "filled": true, "size": 55, "opacity": 1},
   "encoding": {"color": {"field": "s", "type": "nominal", "scale": {"domain": ["1.174","1.224","1.274","1.324","1.349","1.374","1.399","1.424","1.449","1.474","1.499","1.524"], "range": ["#f5be2a","#ec983c","#d9574a","#7d7cb5","#f6b466","#a5cf6c","#34917a","#9eb3a9","#adcdee","#2f7fd2","#e0514d","#ef8f86"]},
     "legend": {"title": null, "orient": "none", "legendX": 378, "legendY": 9}}}},
  {"data": {"values": [{"f": 0.0162, "p": 58.2}, {"f": 0.0528, "p": 15.3}]},
   "mark": {"type": "line", "color": "#e8197d", "strokeWidth": 2.5, "strokeDash": [9, 6]}, "encoding": {}},
  {"data": {"values": [{"f": 0.0528, "p": 15.3}]},
   "mark": {"type": "point", "shape": "triangle-down", "filled": true, "size": 110, "angle": -12.6, "color": "#e8197d", "opacity": 1}},
  {"data": {"values": [{"t": "OER", "f": 0.07, "p": 7.6}]},
   "mark": {"type": "text", "fontSize": 21, "color": "#e8197d"}, "encoding": {"text": {"field": "t"}}},
  {"data": {"values": [{"f": 813, "p": 16.8}, {"f": 0.95, "p": 0.7}]},
   "mark": {"type": "line", "color": "#7b80b8", "strokeWidth": 2.5, "strokeDash": [9, 6]}, "encoding": {}},
  {"data": {"values": [{"f": 0.95, "p": 0.7}]},
   "mark": {"type": "point", "shape": "triangle-left", "filled": true, "size": 110, "angle": -16.3, "color": "#7b80b8", "opacity": 1}},
  {"data": {"values": [{"t": "Electrooxidation", "f": 125, "p": 21.1}]},
   "mark": {"type": "text", "fontSize": 21, "color": "#7b80b8"}, "encoding": {"text": {"field": "t"}}},
  {"data": {"values": [{"t": "CNF/CoNi₂S₄", "f": 0.0105, "p": 83.4}]},
   "mark": {"type": "text", "fontSize": 29, "align": "left", "color": "black"}, "encoding": {"text": {"field": "t"}}}
]
},
{
"width": 458, "height": 347,
"title": {"text": "(c)", "dx": -89},
"encoding": {
  "x": {"field": "f", "type": "quantitative", "scale": {"type": "log", "domain": [0.01, 100000]},
    "axis": {"title": "Log (Frequency (Hz))", "labelFlush": false, "labelOverlap": false, "labelPadding": 6, "titlePadding": 8,
      "values": [0.01,0.02,0.03,0.04,0.05,0.06,0.07,0.08,0.09,0.1,0.2,0.3,0.4,0.5,0.6,0.7,0.8,0.9,1,2,3,4,5,6,7,8,9,10,20,30,40,50,60,70,80,90,100,200,300,400,500,600,700,800,900,1000,2000,3000,4000,5000,6000,7000,8000,9000,10000,20000,30000,40000,50000,60000,70000,80000,90000,100000],
      "labelExpr": "abs(log(datum.value)/LN10 - round(log(datum.value)/LN10)) < 0.001 ? '10' + ['⁻²','⁻¹','⁰','¹','²','³','⁴','⁵'][round(log(datum.value)/LN10) + 2] : ''",
      "tickSize": {"condition": {"test": "abs(log(datum.value)/LN10 - round(log(datum.value)/LN10)) < 0.001", "value": 7}, "value": 4}}},
  "y": {"field": "p", "type": "quantitative", "scale": {"domain": [-10, 90], "nice": false},
    "axis": {"title": "-Phase Angle (degree)", "titlePadding": 5,
      "values": [-10,-5,0,5,10,15,20,25,30,35,40,45,50,55,60,65,70,75,80,85,90],
      "labelExpr": "datum.value % 10 == 0 ? datum.label : ''",
      "tickSize": {"condition": {"test": "datum.value % 10 == 0", "value": 7}, "value": 4}}}
},
"layer": [
  {"data": {"values": [{"f": 0.01, "f2": 1, "p": -10, "p2": 89.6, "z": "o"}, {"f": 1, "f2": 95500, "p": -10, "p2": 89.6, "z": "c"}]},
   "mark": {"type": "rect"},
   "encoding": {"x2": {"field": "f2"}, "y2": {"field": "p2"}, "color": {"condition": {"test": "datum.z == 'o'", "value": "#fde2c6"}, "value": "#e2f7f2"}}},
  {"data": {"name": "c"},
   "mark": {"type": "line", "strokeWidth": 7, "strokeCap": "round", "strokeDash": [0, 6.5], "interpolate": "monotone"},
   "encoding": {"stroke": {"field": "s", "type": "nominal", "legend": null, "scale": {"range": ["#f5be2a","#ec983c","#d9574a","#7d7cb5","#f6b466","#a5cf6c","#34917a","#9eb3a9","#adcdee","#2f7fd2","#e0514d","#ef8f86"]}}}},
  {"data": {"name": "c"},
   "mark": {"type": "point", "filled": true, "size": 55, "opacity": 1},
   "encoding": {"color": {"field": "s", "type": "nominal", "scale": {"domain": ["1.174","1.224","1.274","1.324","1.349","1.374","1.399","1.424","1.449","1.474","1.499","1.524"], "range": ["#f5be2a","#ec983c","#d9574a","#7d7cb5","#f6b466","#a5cf6c","#34917a","#9eb3a9","#adcdee","#2f7fd2","#e0514d","#ef8f86"]},
     "legend": {"title": null, "orient": "none", "legendX": 381, "legendY": 9}}}},
  {"data": {"values": [{"f": 0.0268, "p": 77.6}, {"f": 0.637, "p": 47.6}]},
   "mark": {"type": "line", "color": "#e8197d", "strokeWidth": 2.5, "strokeDash": [9, 6]}, "encoding": {}},
  {"data": {"values": [{"f": 0.637, "p": 47.6}]},
   "mark": {"type": "point", "shape": "triangle-down", "filled": true, "size": 110, "angle": -41, "color": "#e8197d", "opacity": 1}},
  {"data": {"values": [{"t": "OER", "f": 0.35, "p": 36.7}]},
   "mark": {"type": "text", "fontSize": 21, "color": "#e8197d"}, "encoding": {"text": {"field": "t"}}},
  {"data": {"values": [{"t": "NiCo@CNF", "f": 0.0105, "p": 83.7}]},
   "mark": {"type": "text", "fontSize": 29, "align": "left", "color": "black"}, "encoding": {"text": {"field": "t"}}}
]
},
{
"width": 460, "height": 342,
"title": {"text": "(d)", "dx": -82},
"encoding": {
  "x": {"field": "x", "type": "quantitative", "scale": {"domain": [200, 800], "nice": false},
    "axis": {"title": "Raman shift (cm⁻¹)", "labelFlush": false, "titlePadding": 2,
      "values": [200,300,400,500,600,700,800],
      "labelExpr": "datum.value % 200 == 0 ? datum.label : ''",
      "tickSize": {"condition": {"test": "datum.value % 200 == 0", "value": 7}, "value": 4}}},
  "y": {"field": "y", "type": "quantitative", "scale": {"domain": [0, 100], "nice": false},
    "axis": {"title": "Intensity (a.u.)", "labels": false, "ticks": false, "titlePadding": 17}}
},
"layer": [
  {"data": {"values": [{"x": 330, "x2": 348, "y": 1.6, "y2": 31.8, "z": "ni"}, {"x": 469, "x2": 487, "y": 2.5, "y2": 32.7, "z": "co"}]},
   "mark": {"type": "rect"},
   "encoding": {"x2": {"field": "x2"}, "y2": {"field": "y2"}, "color": {"condition": {"test": "datum.z == 'ni'", "value": "#d9c6ea"}, "value": "#a8cbea"}}},
  {"data": {"name": "d"},
   "mark": {"type": "line", "strokeWidth": 1.8},
   "encoding": {"color": {"field": "v", "type": "nominal", "legend": null, "scale": {"domain": ["0.60 V","0.55 V","0.50 V","0.45 V","0.40 V","0.35 V","0.30 V","0.25 V","0.20 V"], "range": ["#f08a1c","#f6b27c","#e6197a","#8f84c2","#2f8e7f","#6cbd45","#d65a50","#f0953f","#e9c22e"]}}}},
  {"data": {"values": [{"g": 1, "x": 474, "y": 78.5}, {"g": 1, "x": 479, "y": 37.6}, {"g": 2, "x": 549, "y": 71.2}, {"g": 2, "x": 555, "y": 37.6}]},
   "mark": {"type": "line", "color": "black", "strokeWidth": 1.8, "strokeDash": [7, 5]},
   "encoding": {"detail": {"field": "g"}}},
  {"data": {"values": [{"g": 1, "x": 489, "y": 79.0}, {"g": 1, "x": 572, "y": 82.5}, {"g": 2, "x": 574, "y": 71.7}, {"g": 2, "x": 610, "y": 76.1}]},
   "mark": {"type": "line", "color": "black", "strokeWidth": 1.6},
   "encoding": {"detail": {"field": "g"}}},
  {"data": {"values": [{"x": 572, "y": 82.5}]},
   "mark": {"type": "point", "shape": "triangle-right", "filled": true, "size": 60, "angle": -10.7, "color": "black", "opacity": 1}},
  {"data": {"values": [{"x": 610, "y": 76.1}]},
   "mark": {"type": "point", "shape": "triangle-right", "filled": true, "size": 60, "angle": -28.5, "color": "black", "opacity": 1}},
  {"data": {"values": [{"t": "0.60 V", "x": 766, "y": 96.6}, {"t": "0.55 V", "x": 766, "y": 88.8}, {"t": "0.50 V", "x": 766, "y": 65.1}, {"t": "0.45 V", "x": 766, "y": 57.3}, {"t": "0.40 V", "x": 766, "y": 50.3}, {"t": "0.35 V", "x": 766, "y": 42.7}, {"t": "0.30 V", "x": 766, "y": 26.4}, {"t": "0.25 V", "x": 766, "y": 17.6}, {"t": "0.20 V", "x": 766, "y": 9.6}]},
   "mark": {"type": "text", "fontSize": 17.5, "align": "right", "color": "black"}, "encoding": {"text": {"field": "t"}}},
  {"data": {"values": [{"t": "Ni(Co)OOH", "x": 664, "y": 80.0}]},
   "mark": {"type": "text", "fontSize": 23, "color": "black"}, "encoding": {"text": {"field": "t"}}},
  {"data": {"values": [{"t": "Ni-S", "x": 338, "y": 35.7}, {"t": "Co-S", "x": 482, "y": 35.7}]},
   "mark": {"type": "text", "fontSize": 22, "color": "black"}, "encoding": {"text": {"field": "t"}}}
]
}
]
}
